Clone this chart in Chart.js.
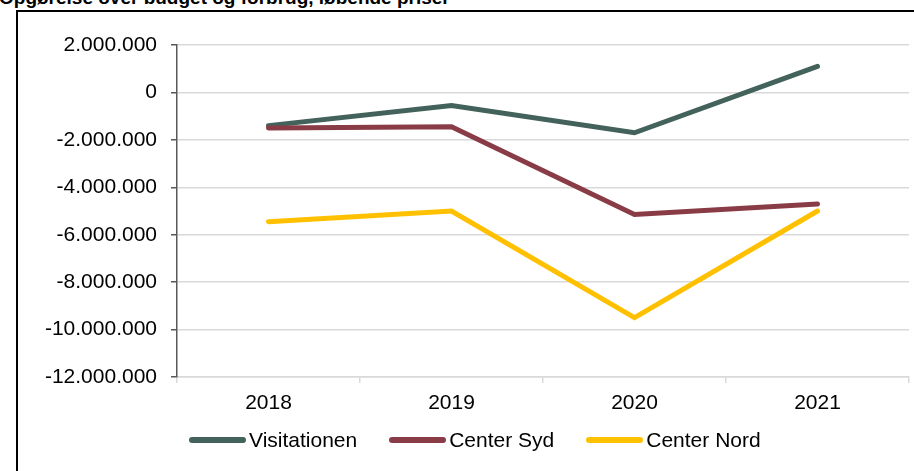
<!DOCTYPE html>
<html>
<head>
<meta charset="utf-8">
<script src="https://cdn.jsdelivr.net/npm/chart.js@4"></script>
<style>
    body { margin: 0; background: #fff; }
    #wrap { position: relative; width: 914px; height: 471px; overflow: hidden; font-family: 'Liberation Sans', Arial, sans-serif; }
    #title { position: absolute; left: -1px; top: -12px; font-size: 19px; font-weight: bold; line-height: 19px; white-space: nowrap; color: #000; }
    #frame { position: absolute; left: 16px; top: 10px; width: 920px; height: 480px; border: 2px solid #000; box-sizing: border-box; background: #fff; }
    #chart { position: absolute; left: 0; top: 0; }
    #legend { position: absolute; left: 189px; top: 428px; display: flex; align-items: center; font-size: 21px; color: #000; }
    .item { display: flex; align-items: center; margin-right: 32px; }
    .swatch { width: 57px; height: 6px; border-radius: 3px; margin-right: 3px; }
</style>
</head>
<body>
<div id="wrap">
    <div id="title">Opgørelse over budget og forbrug, løbende priser</div>
    <div id="frame"></div>
    <canvas id="chart" width="914" height="471"></canvas>
    <div id="legend"></div>
</div>
<script>
const years = ['2018', '2019', '2020', '2021'];
const visitationen = [-1400000, -550000, -1700000, 1100000];
const centerSyd = [-1500000, -1450000, -5150000, -4700000];
const centerNord = [-5450000, -5000000, -9500000, -5000000];
const seriesNames = ['Visitationen', 'Center Syd', 'Center Nord'];
const seriesColors = ['#43625b', '#8a3c46', '#ffc000'];

function formatNumber(v) {
    return Math.round(v).toString().replace(/\B(?=(\d{3})+(?!\d))/g, '.');
}

const seriesData = [visitationen, centerSyd, centerNord];
const datasets = seriesData.map((data, i) => ({
    label: seriesNames[i],
    data: data,
    borderColor: seriesColors[i],
    backgroundColor: seriesColors[i],
    borderWidth: 5,
    borderCapStyle: 'round',
    borderJoinStyle: 'miter',
    pointRadius: 0,
    tension: 0,
    order: 3 - i
}));

new Chart(document.getElementById('chart'), {
    type: 'line',
    data: { labels: years, datasets: datasets },
    options: {
        responsive: false,
        animation: false,
        layout: { padding: { left: 0, right: 5, top: 45, bottom: 54 } },
        plugins: { legend: { display: false }, tooltip: { enabled: false } },
        scales: {
            x: {
                offset: true,
                grid: { offset: true, drawOnChartArea: false, drawTicks: true, tickLength: 6, color: '#d9d9d9', lineWidth: 1.5 },
                border: { color: '#d9d9d9', width: 1.5 },
                ticks: { color: '#000', padding: 8, font: { family: "'Liberation Sans', Arial, sans-serif", size: 21 } },
                afterFit: (scale) => { scale.height = 40; }
            },
            y: {
                min: -12000000,
                max: 2000000,
                grid: { color: '#d9d9d9', lineWidth: 1.5, tickLength: 6, tickColor: '#595959', tickWidth: 1.5 },
                border: { color: '#595959', width: 1.5 },
                ticks: {
                    stepSize: 2000000,
                    color: '#000',
                    padding: 14,
                    font: { family: "'Liberation Sans', Arial, sans-serif", size: 21 },
                    callback: (v) => formatNumber(v)
                },
                afterFit: (scale) => { scale.width = 177; }
            }
        }
    }
});

const legend = document.getElementById('legend');
seriesNames.forEach((name, i) => {
    const item = document.createElement('div');
    item.className = 'item';
    item.innerHTML = `<span class="swatch" style="background:${seriesColors[i]}"></span><span>${name}</span>`;
    legend.appendChild(item);
});
</script>
</body>
</html>
